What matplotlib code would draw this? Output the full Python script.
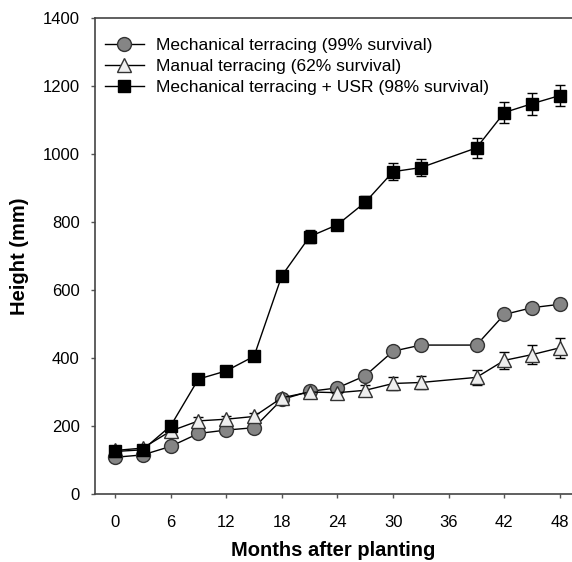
import matplotlib
matplotlib.use("Agg")
from matplotlib import pyplot as plt

plt.rcParams['font.family'] = ['Liberation Sans', 'DejaVu Sans']

months = [0, 3, 6, 9, 12, 15, 18, 21, 24, 27, 30, 33, 39, 42, 45, 48]

mech = [108, 115, 140, 178, 188, 195, 278, 302, 312, 348, 420, 438, 438, 528, 548, 558]
mech_err = [5, 5, 5, 5, 5, 5, 8, 8, 8, 8, 10, 10, 10, 12, 12, 12]

manual = [128, 135, 185, 215, 220, 228, 283, 300, 298, 305, 325, 328, 343, 393, 410, 430]
manual_err = [5, 5, 8, 10, 10, 10, 10, 10, 12, 15, 20, 20, 22, 25, 28, 30]

usr = [125, 130, 200, 338, 362, 405, 642, 757, 792, 858, 948, 960, 1018, 1122, 1148, 1172]
usr_err = [5, 5, 8, 8, 8, 8, 10, 20, 15, 18, 25, 25, 30, 32, 32, 32]

labels = ["Mechanical terracing (99% survival)",
          "Manual terracing (62% survival)",
          "Mechanical terracing + USR (98% survival)"]
xticks = [0, 6, 12, 18, 24, 30, 36, 42, 48]
yticks = [0, 200, 400, 600, 800, 1000, 1200, 1400]

fig = plt.figure(figsize=(5.72, 5.62), dpi=100)
ax = fig.add_axes([0.166, 0.121, 0.834, 0.847])

common = dict(color='black', lw=1, capsize=3.5, elinewidth=1, capthick=1)
c1 = ax.errorbar(months, mech, yerr=mech_err, marker='o', ms=10, mfc='#858585',
                 mec='#333333', mew=1, label=labels[0], **common)
c2 = ax.errorbar(months, manual, yerr=manual_err, marker='^', ms=10, mfc='#eeeeee',
                 mec='#333333', mew=1, label=labels[1], **common)
c3 = ax.errorbar(months, usr, yerr=usr_err, marker='s', ms=8.5, mfc='black',
                 mec='black', label=labels[2], **common)

ax.set_xlim(-2.16, 49.3)
ax.set_ylim(0, 1400)
ax.set_xticks(xticks)
ax.set_yticks(yticks)
ax.tick_params(labelsize=12, length=3, width=1, color='#555555')
ax.tick_params(axis='x', pad=12)
ax.tick_params(axis='y', pad=8)
ax.spines['right'].set_visible(False)
for s in ['left', 'bottom', 'top']:
    ax.spines[s].set_color('#444444')
    ax.spines[s].set_linewidth(1.2)

ax.set_xlabel("Months after planting", fontsize=14.5, fontweight='bold', labelpad=8)
ax.set_ylabel("Height (mm)", fontsize=14.5, fontweight='bold', labelpad=10)

ax.legend([c1.lines[0], c2.lines[0], c3.lines[0]], labels,
          loc='upper left', frameon=False, fontsize=12.5, handlelength=2.2,
          borderaxespad=0.2, labelspacing=0.33, handletextpad=0.7,
          bbox_to_anchor=(0.0, 0.98))

fig.savefig("out.png", dpi=100)
